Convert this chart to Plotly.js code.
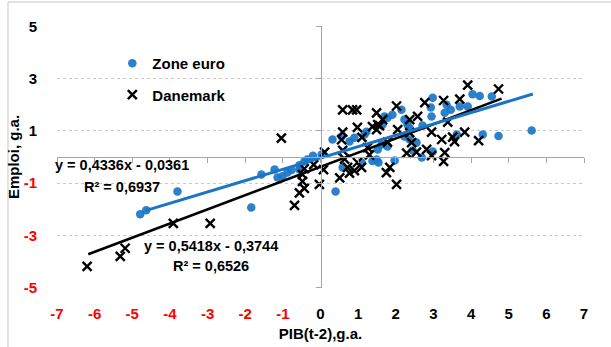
<!DOCTYPE html>
<html><head><meta charset="utf-8">
<script src="https://cdn.plot.ly/plotly-3.0.1.min.js"></script>
<style>html,body{margin:0;padding:0;background:#fff}#chart{width:611px;height:347px}</style>
</head><body><div id="chart"></div>
<script>
// Zone euro (blue dots)
const euroX = [-4.79,-4.63,-3.80,-1.84,-1.57,-1.22,-1.14,-1.01,-0.88,-0.77,-0.56,-0.43,-0.35,-0.56,0.03,-0.20,0.40,0.59,0.32,0.56,0.77,0.90,1.17,1.22,1.62,1.52,1.78,1.09,1.38,1.54,1.97,1.49,1.65,1.70,1.78,1.91,2.15,2.23,2.31,2.37,2.71,2.95,2.93,2.98,2.23,2.37,2.55,2.45,2.69,2.98,3.30,3.46,3.35,3.70,3.91,4.04,4.23,4.55,3.62,4.31,4.73,5.61];
const euroY = [-2.19,-2.04,-1.32,-1.93,-0.67,-0.48,-0.78,-0.74,-0.59,-0.50,-0.32,-0.17,-0.10,-0.48,0.10,0.05,-1.32,-0.40,0.67,0.78,0.59,0.74,0.86,0.97,0.48,0.29,0.40,-0.21,-0.15,-0.21,-0.13,-0.10,1.24,1.55,1.50,1.62,1.81,1.43,1.24,1.10,1.20,1.55,1.89,2.27,0.78,0.67,0.55,0.25,-0.02,0.21,1.69,1.81,2.00,1.93,1.93,2.40,2.33,2.31,0.86,0.86,0.80,1.01];
// Danemark (black crosses)
const danX = [-6.20,-5.32,-5.19,-3.91,-2.93,-1.04,-0.69,-0.56,-0.43,-0.48,-0.03,-0.43,-0.48,-0.18,0.08,0.11,0.51,0.77,0.90,0.64,0.59,0.56,0.59,0.59,0.85,0.96,0.98,1.10,1.38,1.52,1.57,1.65,1.49,1.49,1.25,1.30,0.98,1.09,0.72,1.78,1.75,1.84,2.02,2.02,2.05,2.37,2.58,2.37,2.42,2.29,2.55,2.82,2.95,2.95,2.77,3.27,3.70,3.91,4.73,3.38,3.22,3.51,3.56,3.83,4.20,3.30,3.27];
const danY = [-4.18,-3.80,-3.49,-2.54,-2.54,0.72,-1.85,-1.37,-1.20,-0.93,-1.05,-0.45,-0.67,-0.29,-0.48,0.19,-0.80,-0.62,-0.52,-0.08,0.25,0.66,0.95,1.80,1.80,1.80,1.13,0.75,1.16,1.24,1.20,1.43,1.05,1.69,0.36,0.08,-0.21,-0.40,-0.40,0.57,-0.60,-0.40,-1.05,1.95,1.05,1.43,1.55,0.93,0.55,0.15,0.19,0.29,0.05,0.95,2.08,2.16,2.21,2.75,2.60,1.33,0.67,0.76,0.59,0.95,0.63,0.17,-0.17];
// Trend lines (coefficients shown in chart) and their x extents
const euroFit = {slope: 0.4336, intercept: -0.0361, r2: '0,6937', xr: [-4.65, 5.64]};
const danFit = {slope: 0.5418, intercept: -0.3744, r2: '0,6526', xr: [-6.17, 4.81]};
const xTicks = [-7,-6,-5,-4,-3,-2,-1,0,1,2,3,4,5,6,7];
const yTicks = [-5,-3,-1,1,3,5];

const FONT = '"Liberation Sans Narrow", "Arial Narrow", "Liberation Sans", Arial, sans-serif';
const RED = '#FF0000';
const lbl = v => v < 0 ? `<span style="color:${RED}">${v}</span>` : String(v);
const fitY = (f, x) => f.slope * x + f.intercept;
const eqText = f => `y = ${String(f.slope).replace('.', ',')}x - ${String(Math.abs(f.intercept)).replace('.', ',')}`;

const BLUE = '#1B75C6';
const traces = [
  {x: euroX, y: euroY, type: 'scatter', mode: 'markers', name: 'Zone euro', legendgroup: 'a',
   marker: {color: BLUE, size: 8.5, opacity: 0.92}},
  {x: danX, y: danY, type: 'scatter', mode: 'markers', name: 'Danemark', legendgroup: 'b',
   marker: {symbol: 'x-thin', size: 9, color: '#000', line: {color: '#000', width: 2.4}}},
  {x: euroFit.xr, y: euroFit.xr.map(x => fitY(euroFit, x)), type: 'scatter', mode: 'lines',
   xaxis: 'x2', showlegend: false, hoverinfo: 'skip', line: {color: BLUE, width: 3}},
  {x: danFit.xr, y: danFit.xr.map(x => fitY(danFit, x)), type: 'scatter', mode: 'lines',
   yaxis: 'y2', showlegend: false, hoverinfo: 'skip', line: {color: '#000', width: 2.6}}
];

const tickFont = {family: FONT, size: 15, color: '#000', weight: 'bold'};
const XR = [-7, 7], YR = [-5.01, 5.01];
const annFont = {family: FONT, size: 14.5, color: '#000', weight: 'bold'};
const layout = {
  width: 611, height: 347,
  margin: {l: 57, r: 27, t: 26, b: 59},
  paper_bgcolor: '#fff', plot_bgcolor: '#fff',
  font: {family: FONT, color: '#000'},
  showlegend: true,
  legend: {x: 0.105, y: 0.92, xanchor: 'left', yanchor: 'top', bgcolor: 'rgba(0,0,0,0)',
    font: {family: FONT, size: 15, color: '#000', weight: 'bold'}, tracegroupgap: 9, itemwidth: 30},
  xaxis: {range: XR, tickmode: 'array', tickvals: xTicks, ticktext: xTicks.map(lbl),
    showgrid: false, zeroline: false, showline: false, ticks: 'outside', ticklen: 12,
    tickcolor: 'rgba(0,0,0,0)', tickfont: tickFont,
    title: {text: 'PIB(t-2),g.a.', font: {family: FONT, size: 15, color: '#000', weight: 'bold'}, standoff: 7}},
  xaxis2: {range: XR, overlaying: 'x', anchor: 'free', position: 0.5, side: 'bottom',
    tickmode: 'array', tickvals: xTicks, showticklabels: false, showgrid: false, zeroline: false,
    showline: true, linecolor: '#A6A6A6', linewidth: 1, ticks: 'outside', ticklen: 5, tickcolor: '#A6A6A6'},
  yaxis: {range: YR, tickmode: 'array', tickvals: yTicks, ticktext: yTicks.map(lbl),
    showgrid: true, gridcolor: '#C8C8C8', griddash: 'dot', gridwidth: 1, zeroline: false, showline: false,
    ticks: 'outside', ticklen: 16, tickcolor: 'rgba(0,0,0,0)', tickfont: tickFont,
    title: {text: 'Emploi, g.a.', font: {family: FONT, size: 15, color: '#000', weight: 'bold'}, standoff: 0}},
  yaxis2: {range: YR, overlaying: 'y', anchor: 'free', position: 0.5, side: 'left',
    tickmode: 'array', tickvals: yTicks, showticklabels: false, showgrid: false, zeroline: false,
    showline: true, linecolor: '#A6A6A6', linewidth: 1, ticks: 'outside', ticklen: 5, tickcolor: '#A6A6A6'},
  annotations: [
    {xref: 'x', yref: 'y', x: -5.28, y: -0.29, text: eqText(euroFit), showarrow: false, font: annFont},
    {xref: 'x', yref: 'y', x: -5.28, y: -1.13, text: 'R² = ' + euroFit.r2, showarrow: false, font: annFont},
    {xref: 'x', yref: 'y', x: -2.90, y: -3.42, text: eqText(danFit), showarrow: false, font: annFont},
    {xref: 'x', yref: 'y', x: -2.90, y: -4.18, text: 'R² = ' + danFit.r2, showarrow: false, font: annFont}
  ],
  shapes: [
    {type: 'line', xref: 'paper', yref: 'paper', x0: -0.093, x1: 1.06, y0: 1.092, y1: 1.092, line: {color: '#D9D9D9', width: 1.5}},
    {type: 'line', xref: 'paper', yref: 'paper', x0: -0.093, x1: -0.093, y0: -0.23, y1: 1.092, line: {color: '#D9D9D9', width: 1.5}}
  ]
};
Plotly.newPlot('chart', traces, layout, {displayModeBar: false, staticPlot: true});
</script></body></html>
